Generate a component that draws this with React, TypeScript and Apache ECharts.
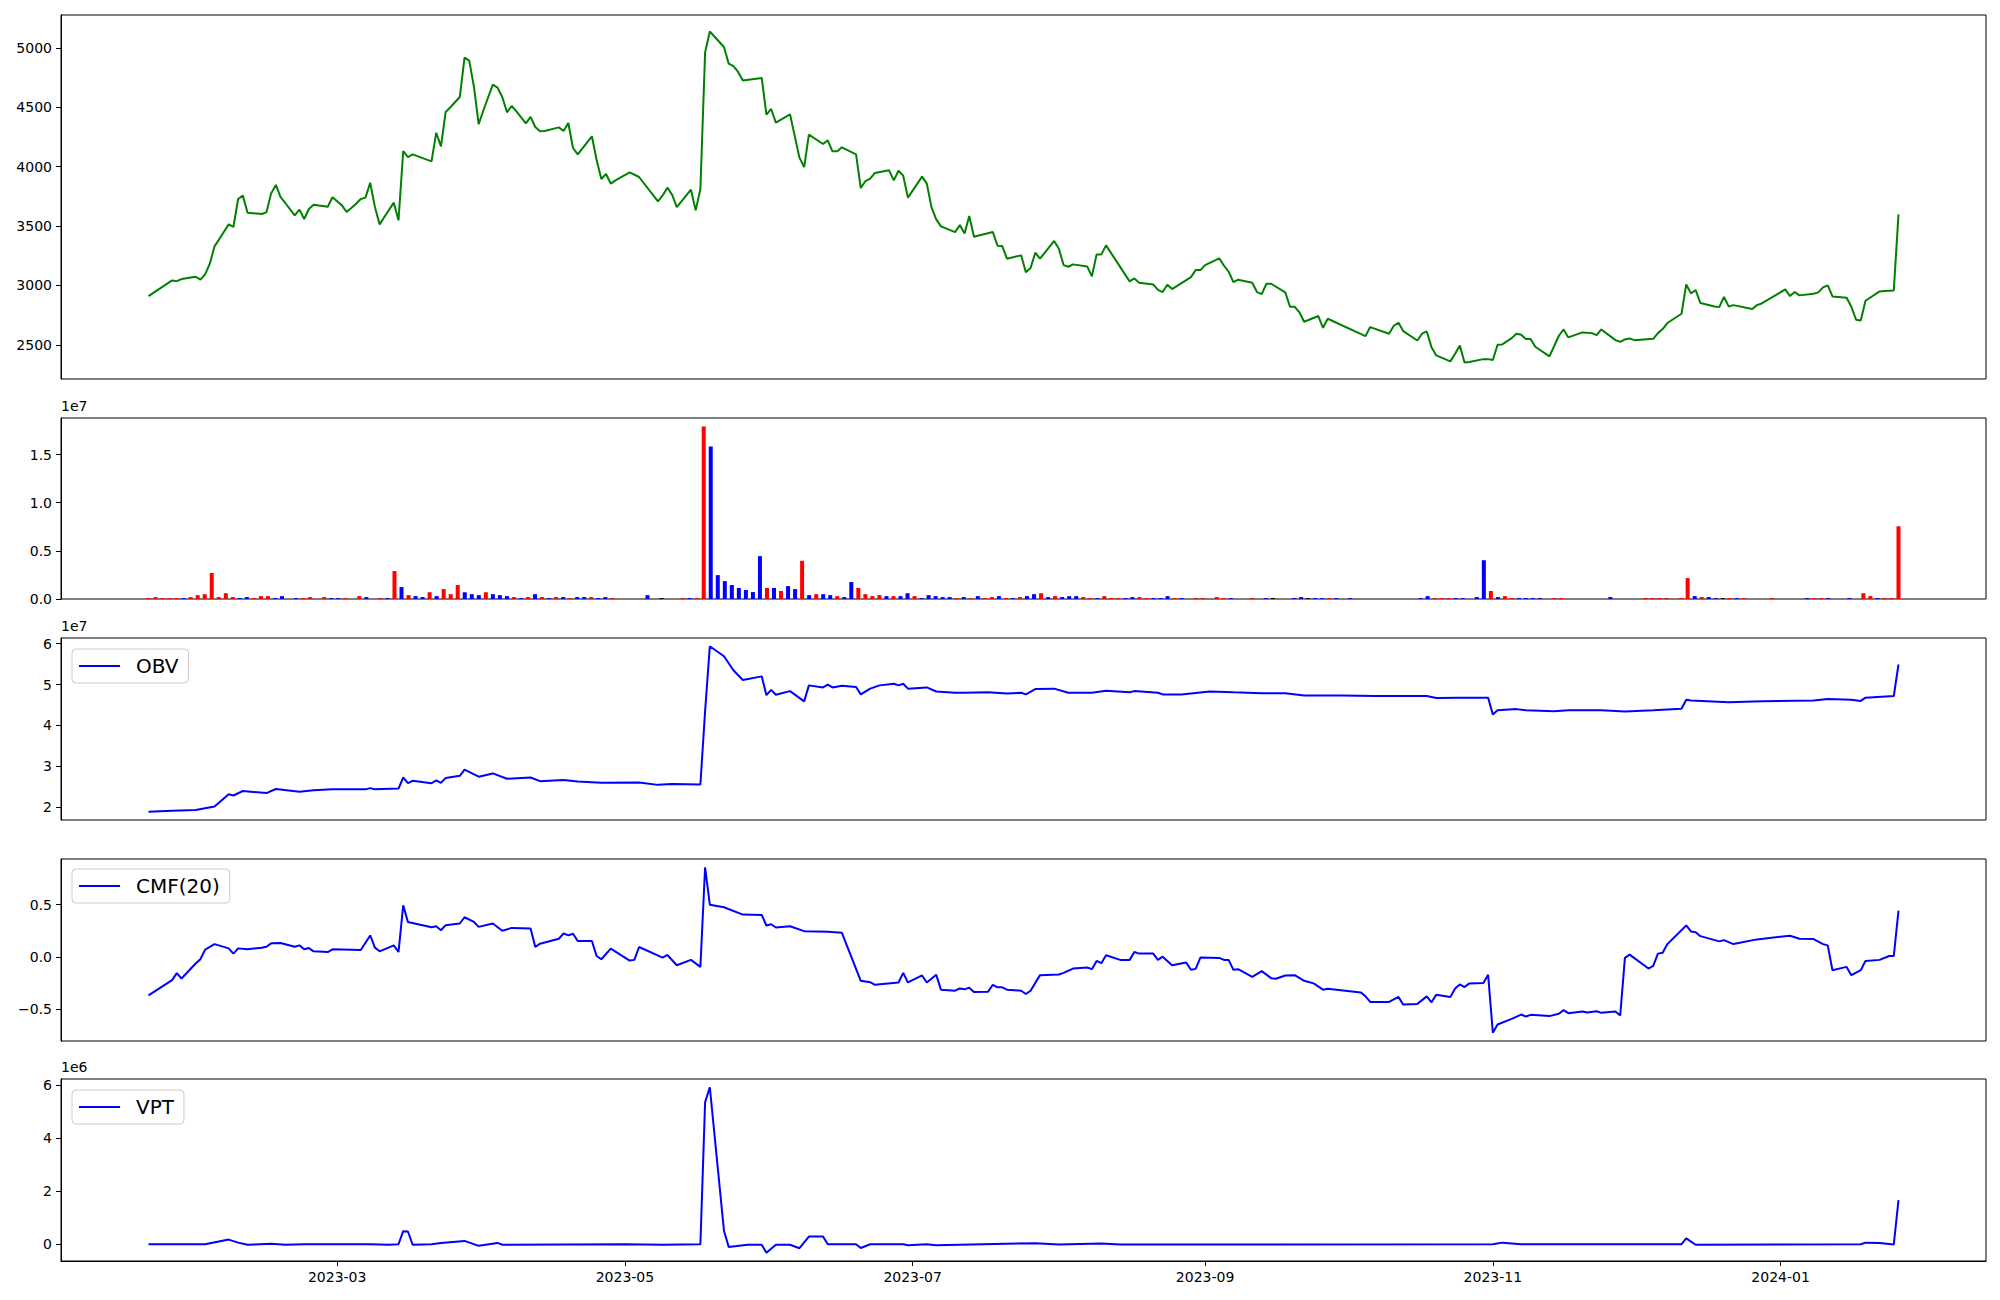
import React, { useEffect, useRef } from 'react';
import * as echarts from 'echarts';

// ---------- DATA ----------
const START_DATE = '2023-01-20'; // day 0 of the date axis
const tickDates = ['2023-03-01', '2023-05-01', '2023-07-01', '2023-09-01', '2023-11-01', '2024-01-01'];
const tickLabels = ['2023-03', '2023-05', '2023-07', '2023-09', '2023-11', '2024-01'];

// Close price: [day offset from START_DATE, close]
const closePrice: [number, number][] = [
  [0,2910],[5,3042],[6,3036],[7,3053],[10,3073],[11,3048],[12,3093],[13,3183],[14,3329],[15,3390],[16,3452],[17,3514],[18,3492],[19,3728],[20,3756],[21,3612],[24,3601],[25,3615],[26,3775],[27,3846],[28,3744],[29,3694],[31,3590],[32,3638],[33,3559],[34,3643],[35,3680],[38,3663],[39,3742],[40,3708],[41,3674],[42,3618],[43,3652],[44,3688],[45,3728],[46,3739],[47,3865],[48,3660],[49,3514],[50,3576],[52,3697],[53,3548],[54,4132],[55,4081],[56,4104],[60,4045],[61,4286],[62,4171],[63,4461],[64,4500],[66,4587],[67,4918],[68,4893],[69,4671],[70,4357],[71,4475],[73,4691],[74,4666],[75,4587],[76,4458],[77,4511],[78,4466],[80,4365],[81,4419],[82,4334],[83,4298],[84,4300],[87,4331],[88,4300],[89,4368],[90,4157],[91,4104],[94,4256],[95,4056],[96,3896],[97,3938],[98,3857],[99,3885],
  [102,3952],[104,3913],[108,3708],[109,3758],[110,3823],[111,3764],[112,3660],[115,3806],[116,3632],[117,3812],[118,4961],[119,5138],[122,5008],[123,4868],[124,4846],[125,4798],[126,4725],[130,4747],[131,4438],[132,4486],[133,4371],[136,4441],[138,4076],[139,3997],[140,4270],[143,4191],[144,4222],[145,4129],[146,4129],[147,4163],[150,4104],[151,3820],[152,3879],[153,3899],[154,3947],[157,3969],[158,3885],[159,3966],[160,3924],[161,3739],[164,3916],[165,3857],[166,3657],[167,3556],[168,3497],[171,3449],[172,3508],[173,3438],[174,3584],[175,3410],[179,3449],[180,3334],[181,3331],[182,3225],[185,3253],[186,3110],[187,3146],[188,3275],[189,3225],[192,3374],[193,3309],
  [194,3171],[195,3157],[196,3177],[199,3160],[200,3076],[201,3261],[202,3261],[203,3337],[208,3034],[209,3059],[210,3022],[213,3008],[214,2963],[215,2944],[216,3006],[217,2969],[221,3070],[222,3129],[223,3129],[224,3171],[227,3228],[228,3166],[229,3115],[230,3028],[231,3048],[234,3022],[235,2944],[236,2927],[237,3014],[238,3014],[241,2941],[242,2820],[243,2820],[244,2772],[245,2694],[248,2742],[249,2643],[250,2719],[258,2573],[259,2649],[263,2593],[264,2660],[265,2685],[266,2615],[269,2536],[270,2593],[271,2612],[272,2480],[273,2410],[276,2360],[277,2424],[278,2494],[279,2351],[280,2354],[283,2379],[284,2379],[285,2371],[286,2500],[287,2503],[289,2556],
  [290,2593],[291,2584],[292,2548],[293,2548],[294,2483],[297,2402],[299,2576],[300,2629],[301,2562],[304,2604],[306,2598],[307,2581],[308,2629],[311,2539],[312,2525],[313,2545],[314,2553],[315,2539],[319,2550],[320,2598],[321,2632],[322,2683],[325,2761],[326,3008],[327,2933],[328,2961],[329,2851],[332,2823],[333,2817],[334,2902],[335,2823],[336,2834],[340,2801],[341,2834],[342,2848],[347,2966],[348,2910],[349,2944],[350,2916],[353,2930],[354,2941],[355,2983],[356,3000],[357,2907],[360,2896],[361,2820],[362,2711],[363,2705],[364,2871],[367,2949],[368,2952],[370,2958],[371,3598]
];

// Volume per trading-day index (millions of shares)
const volumeMillions: number[] = [
  0.1,0.2,0.1,0.1,0.1,0.1,0.2,0.4,0.5,2.7,
  0.2,0.6,0.2,0.1,0.2,0.1,0.3,0.3,0.1,0.3,
  0,0.1,0.1,0.2,0,0.2,0.1,0.1,0.1,0,
  0.3,0.2,0,0.1,0.1,2.9,1.24,0.4,0.3,0.2,
  0.7,0.3,1.03,0.5,1.45,0.7,0.5,0.4,0.7,0.5,
  0.4,0.3,0.2,0.1,0.2,0.5,0.2,0.1,0.2,0.2,
  0.1,0.2,0.2,0.2,0.1,0.2,0.1,0,0,0,
  0,0.4,0,0.1,0,0,0.1,0.1,0.1,17.9,
  15.83,2.48,1.86,1.45,1.14,0.93,0.72,4.45,1.14,1.14,
  0.83,1.34,1.03,3.97,0.4,0.5,0.5,0.4,0.3,0.2,
  1.76,1.14,0.5,0.3,0.4,0.3,0.3,0.3,0.6,0.3,
  0.1,0.4,0.3,0.2,0.2,0.1,0.2,0.1,0.3,0.1,
  0.2,0.3,0.1,0.1,0.2,0.3,0.5,0.6,0.2,0.3,
  0.2,0.3,0.3,0.2,0.1,0.1,0.3,0.1,0.1,0.1,
  0.2,0.2,0.1,0.1,0.1,0.3,0.1,0.1,0,0.1,
  0.1,0,0.2,0.1,0.1,0,0,0.1,0,0.1,
  0.1,0,0,0.1,0.2,0.1,0.1,0.1,0.1,0.1,
  0,0.1,0,0,0,0,0,0,0,0,
  0,0.1,0.3,0.1,0.1,0.1,0.1,0.1,0,0.2,
  4.03,0.83,0.2,0.3,0.1,0.1,0.1,0.1,0.1,0,
  0.1,0.1,0,0,0,0,0,0,0.2,0,
  0,0,0,0.1,0.1,0.1,0.1,0,0.1,2.17,
  0.3,0.2,0.2,0.1,0.1,0.1,0.1,0.1,0,0,
  0,0.1,0,0,0,0,0.1,0.1,0.1,0.1,
  0,0,0.1,0,0.6,0.3,0.1,0.1,0.1,7.55
];
// r = up candle, b = down candle, k = unchanged
const volumeColorCodes =
  'rrrrrbrrrr' + 'rrrbbrrrbb' + 'rbrrrrbbrr' + 'rbrrbrbrbb' + 'rbrrrbbbrb' +
  'bbrbrbrbrb' + 'rbbrbbrrrr' + 'rbrkrrrbrr' + 'bbbbbbbbrb' + 'rbbrbrbbrb' +
  'brrrrbrbbr' + 'bbbbbrbrbr' + 'rbrbrbbrbr' + 'bbbrrbrrrb' + 'brrbbbrbrr' +
  'rrrrbrrrrb' + 'krrbbkbbrb' + 'rbrrrrrrrr' + 'rbbrrrbbrb' + 'brbrrbbbbr' +
  'rrrrrrrrbr' + 'rrrrrrrrrr' + 'brbbkrbrrr' + 'rrrrrrbrrb' + 'rrbrrrbrrr';

// OBV (units of 1e7): [day offset, value]
const obvE7: [number, number][] = [
  [0,1.894],[5,1.92],[10,1.935],[14,2.02],[17,2.32],[18,2.29],[20,2.40],[25,2.35],[27,2.45],[32,2.38],[35,2.42],[39,2.44],[46,2.44],[47,2.47],[48,2.44],[53,2.46],[54,2.73],[55,2.59],[56,2.65],[60,2.59],[61,2.66],[62,2.60],[63,2.72],[66,2.77],[67,2.92],[70,2.75],[73,2.83],[76,2.70],[81,2.73],[83,2.64],[88,2.67],[91,2.63],[96,2.60],[104,2.61],[108,2.55],[111,2.57],[117,2.56],[118,4.35],[119,5.935],[122,5.69],[124,5.35],[126,5.11],[130,5.20],[131,4.74],[132,4.87],[133,4.75],[136,4.84],[139,4.59],[140,4.98],[143,4.93],[144,5.0],[145,4.93],[147,4.97],[150,4.94],[151,4.76],[153,4.90],[155,4.98],[158,5.02],[159,4.98],[160,5.02],[161,4.90],[165,4.93],[167,4.83],[171,4.80],[173,4.80],[178,4.81],[182,4.78],[185,4.80],[186,4.76],[188,4.89],[192,4.90],[195,4.80],[200,4.80],[203,4.85],[208,4.81],[209,4.84],[214,4.80],[215,4.76],[219,4.76],[225,4.83],[230,4.81],[236,4.79],[241,4.79],[245,4.73],[253,4.73],[260,4.72],[267,4.72],[271,4.72],[273,4.67],[278,4.68],[284,4.68],[285,4.27],[286,4.37],[290,4.40],[292,4.37],[298,4.35],[301,4.37],[308,4.37],[313,4.34],[319,4.37],[325,4.41],[326,4.63],[327,4.61],[335,4.57],[342,4.59],[353,4.61],[356,4.65],[361,4.63],[363,4.60],[364,4.68],[370,4.72],[371,5.49]
];

// CMF(20): [day offset, value]
const cmf20: [number, number][] = [
  [0,-0.367],[5,-0.222],[6,-0.155],[7,-0.206],[10,-0.063],[11,-0.022],[12,0.070],[14,0.123],[17,0.082],[18,0.032],[19,0.082],[21,0.073],[24,0.089],[25,0.098],[26,0.130],[28,0.133],[31,0.098],[32,0.111],[33,0.073],[34,0.085],[35,0.054],[38,0.047],[39,0.073],[45,0.066],[47,0.206],[48,0.089],[49,0.054],[52,0.111],[53,0.047],[54,0.494],[55,0.335],[60,0.285],[61,0.294],[62,0.256],[63,0.304],[66,0.320],[67,0.380],[69,0.335],[70,0.288],[73,0.320],[75,0.250],[77,0.278],[81,0.272],[82,0.095],[83,0.127],[87,0.174],[88,0.225],[89,0.206],[90,0.222],[91,0.152],[94,0.152],[95,0.009],[96,-0.022],[98,0.079],[102,-0.035],[103,-0.028],[104,0.095],[109,-0.006],[110,0.019],[112,-0.079],[115,-0.028],[117,-0.095],[118,0.858],[119,0.5],[122,0.475],[126,0.405],[130,0.402],[131,0.301],[132,0.313],[133,0.282],[136,0.294],[139,0.247],[144,0.241],[147,0.231],[151,-0.228],[153,-0.241],[154,-0.266],[159,-0.244],[160,-0.152],[161,-0.244],[164,-0.177],[165,-0.244],[167,-0.171],[168,-0.313],[171,-0.323],[172,-0.301],[173,-0.310],[174,-0.294],[175,-0.335],[178,-0.332],[179,-0.266],[180,-0.291],[181,-0.291],[182,-0.313],[185,-0.323],[186,-0.354],[187,-0.323],[189,-0.174],[193,-0.168],[194,-0.152],[196,-0.111],[199,-0.101],[200,-0.117],[201,-0.038],[202,-0.060],[203,0.016],[206,-0.028],[208,-0.028],[209,0.047],[210,0.032],[213,0.032],[214,-0.028],[215,0.003],[217,-0.079],[220,-0.054],[221,-0.123],[222,-0.114],[223,-0.006],[227,-0.009],[228,-0.028],[229,-0.028],[230,-0.123],[231,-0.117],[234,-0.190],[236,-0.136],[238,-0.203],[239,-0.209],[241,-0.177],[243,-0.174],[245,-0.228],[247,-0.253],[249,-0.313],[250,-0.304],[257,-0.339],[258,-0.377],[259,-0.430],[263,-0.430],[265,-0.383],[266,-0.456],[269,-0.449],[271,-0.377],[272,-0.434],[273,-0.361],[276,-0.383],[277,-0.301],[278,-0.263],[279,-0.288],[280,-0.253],[283,-0.250],[284,-0.171],[285,-0.725],[286,-0.646],[289,-0.592],[291,-0.551],[292,-0.570],[293,-0.554],[297,-0.566],[299,-0.544],[300,-0.509],[301,-0.538],[304,-0.522],[305,-0.532],[307,-0.519],[308,-0.535],[311,-0.522],[312,-0.560],[313,-0.009],[314,0.022],[318,-0.111],[319,-0.085],[320,0.032],[321,0.041],[322,0.123],[326,0.301],[327,0.244],[328,0.237],[329,0.199],[333,0.149],[334,0.161],[336,0.123],[341,0.168],[348,0.203],[350,0.174],[353,0.171],[355,0.123],[356,0.111],[357,-0.127],[360,-0.095],[361,-0.174],[363,-0.127],[364,-0.038],[367,-0.028],[369,0.009],[370,0.009],[371,0.443]
];

// VPT (units of 1e6): [day offset, value]
const vptE6: [number, number][] = [
  [0,0],[12,0],[17,0.175],[19,0.06],[21,-0.02],[26,0.02],[29,-0.02],[33,0],[47,0],[51,-0.02],[53,0],[54,0.49],[55,0.48],[56,-0.02],[60,0],[62,0.05],[67,0.125],[70,-0.06],[74,0.05],[75,-0.02],[101,0],[109,-0.02],[117,0],[118,5.35],[119,5.91],[122,0.51],[123,-0.1],[127,-0.02],[130,-0.02],[131,-0.32],[133,-0.02],[136,-0.02],[138,-0.15],[140,0.29],[143,0.29],[144,0],[150,0],[151,-0.14],[153,0],[160,0],[161,-0.04],[165,0],[167,-0.04],[188,0.04],[193,-0.01],[202,0.025],[206,-0.01],[285,0],[287,0.06],[291,0],[325,0],[326,0.22],[328,-0.02],[363,0],[364,0.06],[367,0.05],[370,-0.01],[371,1.66]
];

const priceTicks = [2500, 3000, 3500, 4000, 4500, 5000];
const volumeTicksMillions = [0, 5, 10, 15];
const obvTicks = [2, 3, 4, 5, 6];
const cmfTicks = [-0.5, 0, 0.5];
const vptTicks = [0, 2, 4, 6];

// ---------- HELPERS ----------
const FONT = 'DejaVu Sans';
const DAY_MS = 86400000;
const dayOffset = (s: string) => {
  const [y, m, d] = s.split('-').map(Number);
  const [y0, m0, d0] = START_DATE.split('-').map(Number);
  return Math.round((Date.UTC(y, m - 1, d) - Date.UTC(y0, m0 - 1, d0)) / DAY_MS);
};
const padRange = (vals: number[]) => {
  const mn = Math.min(...vals);
  const mx = Math.max(...vals);
  const p = (mx - mn) * 0.05;
  return [mn - p, mx + p];
};
const minus = (s: string) => s.replace('-', '\u2212');

export default function App() {
  const ref = useRef<HTMLDivElement>(null);

  useEffect(() => {
    document.body.style.margin = '0';
    const chart = echarts.init(ref.current as HTMLDivElement, null, { renderer: 'svg' });

    const tickDays = tickDates.map(dayOffset);
    const allDays = closePrice.map((p) => p[0]);
    const [dMin, dMax] = padRange(allDays);
    const [iMin, iMax] = padRange([0, volumeMillions.length - 1]);
    const [pMin, pMax] = padRange(closePrice.map((p) => p[1]));
    const vMax = Math.max(...volumeMillions) * 1.05;
    const [oMin, oMax] = padRange(obvE7.map((p) => p[1]));
    const [cMin, cMax] = padRange(cmf20.map((p) => p[1]));
    const [tMin, tMax] = padRange(vptE6.map((p) => p[1]));

    const L = 61, W = 1925;
    const grids = [
      { left: L, width: W, top: 15, height: 364 },
      { left: L, width: W, top: 418, height: 181 },
      { left: L, width: W, top: 638, height: 182 },
      { left: L, width: W, top: 859, height: 182 },
      { left: L, width: W, top: 1079, height: 182 },
    ].map((g) => ({ ...g, show: true, borderColor: '#000', borderWidth: 1, backgroundColor: 'transparent' }));

    const labelStyle = { fontSize: 14, fontFamily: FONT, color: '#000' };

    const xAxisFor = (gi: number, min: number, max: number, withTicks: boolean) => ({
      type: 'value',
      gridIndex: gi,
      min,
      max,
      position: 'bottom',
      axisLine: { show: withTicks, onZero: false, lineStyle: { color: '#000', width: 1 } },
      axisTick: withTicks
        ? { show: true, customValues: tickDays, length: 5, lineStyle: { color: '#000', width: 1 } }
        : { show: false },
      axisLabel: withTicks
        ? {
            show: true,
            customValues: tickDays,
            margin: 9,
            ...labelStyle,
            formatter: (v: number) => {
              const k = tickDays.findIndex((t) => Math.abs(t - v) < 0.01);
              return k >= 0 ? tickLabels[k] : '';
            },
          }
        : { show: false },
      splitLine: { show: false },
    });

    const yAxisFor = (gi: number, min: number, max: number, ticks: number[], fmt: (v: number) => string, name?: string) => ({
      type: 'value',
      gridIndex: gi,
      min,
      max,
      position: 'left',
      axisLine: { show: true, onZero: false, lineStyle: { color: '#000', width: 1 } },
      axisTick: { show: true, customValues: ticks, length: 5, lineStyle: { color: '#000', width: 1 } },
      axisLabel: { show: true, customValues: ticks, margin: 9, ...labelStyle, formatter: fmt },
      splitLine: { show: false },
      name: name || '',
      nameLocation: 'end',
      nameGap: 5,
      nameTextStyle: { ...labelStyle, align: 'left', verticalAlign: 'bottom' },
    });

    const colorOf: Record<string, string> = { r: '#ff0000', b: '#0000ff', k: '#000000' };

    const legendFor = (name: string, left: number, top: number) => ({
      data: [name],
      left,
      top,
      orient: 'horizontal',
      icon: 'rect',
      itemWidth: 41,
      itemHeight: 2,
      selectedMode: false,
      backgroundColor: 'rgba(255,255,255,0.8)',
      borderColor: '#cccccc',
      borderWidth: 1,
      borderRadius: 4,
      padding: [7, 10, 7, 7],
      textStyle: { fontSize: 20, fontFamily: FONT, color: '#000', padding: [0, 0, 0, 11] },
    });

    const lineSeries = (name: string, gi: number, data: [number, number][], color: string) => ({
      name,
      type: 'line',
      xAxisIndex: gi,
      yAxisIndex: gi,
      data,
      showSymbol: false,
      symbol: 'none',
      lineStyle: { color, width: 2 },
      itemStyle: { color },
      clip: false,
    });

    const option = {
      animation: false,
      backgroundColor: '#ffffff',
      grid: grids,
      xAxis: [
        xAxisFor(0, dMin, dMax, false),
        xAxisFor(1, iMin, iMax, false),
        xAxisFor(2, dMin, dMax, false),
        xAxisFor(3, dMin, dMax, false),
        xAxisFor(4, dMin, dMax, true),
      ],
      yAxis: [
        yAxisFor(0, pMin, pMax, priceTicks, (v) => String(v)),
        yAxisFor(1, 0, vMax, volumeTicksMillions, (v) => (v / 10).toFixed(1), '1e7'),
        yAxisFor(2, oMin, oMax, obvTicks, (v) => String(v), '1e7'),
        yAxisFor(3, cMin, cMax, cmfTicks, (v) => minus(v.toFixed(1))),
        yAxisFor(4, tMin, tMax, vptTicks, (v) => String(v), '1e6'),
      ],
      legend: [
        legendFor('OBV', 72, 649),
        legendFor('CMF(20)', 72, 869),
        legendFor('VPT', 72, 1090),
      ],
      series: [
        lineSeries('Close', 0, closePrice, '#008000'),
        {
          name: 'Volume',
          type: 'bar',
          xAxisIndex: 1,
          yAxisIndex: 1,
          barWidth: 4,
          data: volumeMillions.map((v, i) => ({
            value: [i, v],
            itemStyle: { color: colorOf[volumeColorCodes[i]] || '#ff0000' },
          })),
        },
        lineSeries('OBV', 2, obvE7, '#0000ff'),
        lineSeries('CMF(20)', 3, cmf20, '#0000ff'),
        lineSeries('VPT', 4, vptE6, '#0000ff'),
      ],
    };

    chart.setOption(option as any);
    return () => chart.dispose();
  }, []);

  return <div ref={ref} style={{ width: 2000, height: 1300, background: '#fff' }} />;
}
